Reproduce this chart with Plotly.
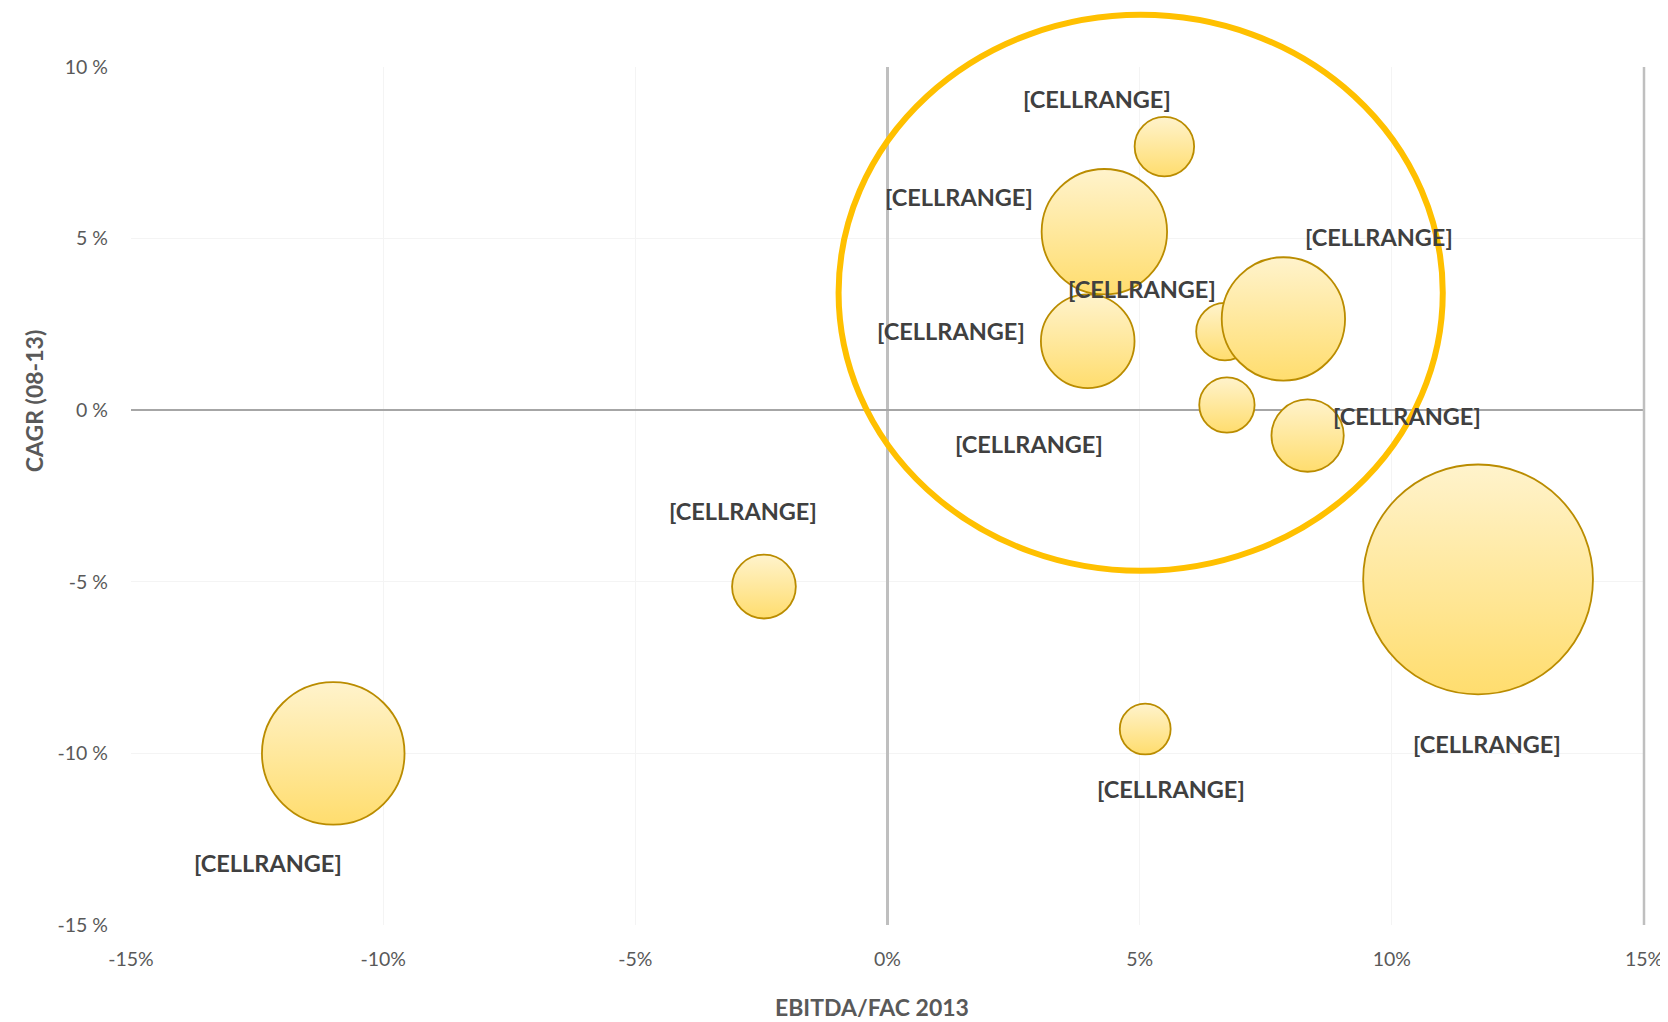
import plotly.graph_objects as go

# EBITDA/FAC 2013 (%), CAGR 08-13 (%), bubble size (relative)
ebitda = [5.49, 4.30, 3.97, 6.69, 7.85, 6.73, 8.33, 11.71, -2.45, 5.11, -10.99]
cagr = [7.68, 5.20, 2.01, 2.29, 2.66, 0.15, -0.74, -4.93, -5.14, -9.29, -10.00]
size = [6.7, 29.8, 16.6, 6.25, 28.8, 5.8, 9.9, 100.0, 7.7, 4.9, 38.5]
labels = ["[CELLRANGE]"] * 11

xticks = [-15, -10, -5, 0, 5, 10, 15]
xticktext = ["-15%", "-10%", "-5%", "0%", "5%", "10%", "15%"]
yticks = [-15, -10, -5, 0, 5, 10]
yticktext = ["-15 %", "-10 %", "-5 %", "0 %", "5 %", "10 %"]

# label offsets from bubble centre, px (dx, dy up)
label_shift = [(-67, 48), (-145, 35), (-137, 10), (-83, 43), (96, 82), (-198, -39),
               (99, 20), (9, -165), (-21, 76), (26, -60), (-65, -110)]

X_RANGE = [-15, 15]
Y_RANGE = [-15, 10]
# highlight ring (data units), drawn in paper coords so it is not clipped
RING = dict(x0=-0.97, x1=11.01, y0=-4.68, y1=11.52)

FONT = "Lato"
TICK_GREY = "#595959"


def to_paper(v, rng):
    return (v - rng[0]) / (rng[1] - rng[0])


fig = go.Figure()
fig.add_trace(go.Scatter(
    x=ebitda, y=cagr,
    mode="markers",
    marker=dict(
        size=size,
        sizemode="area",
        sizeref=2 * 100 / 229.8 ** 2,
        color="#FFF3CC",
        gradient=dict(type="vertical", color="#FFDD6E"),
        line=dict(color="#BA8C00", width=1.8),
        opacity=1,
    ),
    hoverinfo="skip",
    showlegend=False,
))

for xv, yv, t, (dx, dy) in zip(ebitda, cagr, labels, label_shift):
    fig.add_annotation(x=xv, y=yv, text="<b>" + t + "</b>", showarrow=False,
                       xshift=dx, yshift=dy,
                       font=dict(family=FONT, size=23.5, color="#404040"))

fig.add_shape(type="circle", xref="paper", yref="paper", layer="above",
              x0=to_paper(RING["x0"], X_RANGE), x1=to_paper(RING["x1"], X_RANGE),
              y0=to_paper(RING["y0"], Y_RANGE), y1=to_paper(RING["y1"], Y_RANGE),
              line=dict(color="#FFC000", width=6))
# right border line
fig.add_shape(type="line", xref="paper", yref="paper", x0=1, x1=1, y0=0, y1=1,
              line=dict(color="#BFBFBF", width=2.5))

fig.add_annotation(text="<b>EBITDA/FAC 2013</b>", xref="paper", yref="paper",
                   x=0.49, y=-0.095, showarrow=False, yanchor="middle",
                   font=dict(family=FONT, size=23, color=TICK_GREY))
fig.add_annotation(text="<b>CAGR (08-13)</b>", xref="paper", yref="paper",
                   x=-0.075, y=0.61, showarrow=False, textangle=-90,
                   font=dict(family=FONT, size=23, color=TICK_GREY))

fig.update_xaxes(range=X_RANGE, tickvals=xticks, ticktext=xticktext,
                 showgrid=True, gridcolor="#F4F4F4", gridwidth=1,
                 zeroline=True, zerolinecolor="#BFBFBF", zerolinewidth=2.5,
                 ticks="", ticklabelstandoff=20, automargin=False,
                 ticklabeloverflow="allow",
                 tickfont=dict(family=FONT, size=19.5, color=TICK_GREY))
fig.update_yaxes(range=Y_RANGE, tickvals=yticks, ticktext=yticktext,
                 showgrid=True, gridcolor="#F4F4F4", gridwidth=1,
                 zeroline=True, zerolinecolor="#A6A6A6", zerolinewidth=1.5,
                 ticks="", ticklabelstandoff=22, automargin=False,
                 tickfont=dict(family=FONT, size=19.5, color=TICK_GREY))

fig.update_layout(
    width=1660, height=1014,
    margin=dict(l=123, r=24, t=59, b=97, autoexpand=False),
    plot_bgcolor="white", paper_bgcolor="white",
    font=dict(family=FONT),
)

fig.write_html("out.html")
